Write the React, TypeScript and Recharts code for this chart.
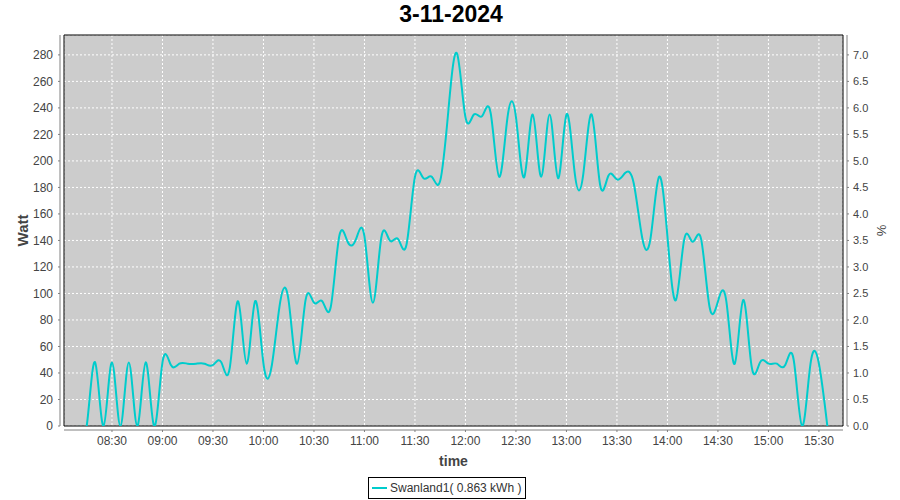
import { LineChart, Line, XAxis, YAxis, CartesianGrid, Legend, ReferenceArea } from "recharts";

const times = [
  "08:10", "08:15", "08:20", "08:25", "08:30", "08:35", "08:40", "08:45", "08:50", "08:55",
  "09:00", "09:05", "09:10", "09:15", "09:20", "09:25", "09:30", "09:35", "09:40", "09:45", "09:50", "09:55",
  "10:00", "10:05", "10:10", "10:15", "10:20", "10:25", "10:30", "10:35", "10:40", "10:45", "10:50", "10:55",
  "11:00", "11:05", "11:10", "11:15", "11:20", "11:25", "11:30", "11:35", "11:40", "11:45", "11:50", "11:55",
  "12:00", "12:05", "12:10", "12:15", "12:20", "12:25", "12:30", "12:35", "12:40", "12:45", "12:50", "12:55",
  "13:00", "13:05", "13:10", "13:15", "13:20", "13:25", "13:30", "13:35", "13:40", "13:45", "13:50", "13:55",
  "14:00", "14:05", "14:10", "14:15", "14:20", "14:25", "14:30", "14:35", "14:40", "14:45", "14:50", "14:55",
  "15:00", "15:05", "15:10", "15:15", "15:20", "15:25", "15:30", "15:35",
];

const watts = [
  0, 0, 48, 0, 48, 0, 48, 0, 48, 0,
  48, 46, 47, 47, 47, 47, 46, 48, 44, 94, 47, 94,
  47, 46, 94, 94, 47, 95, 93, 94, 90, 143, 139, 141,
  143, 93, 142, 140, 141, 137, 188, 187, 188, 185, 240, 281,
  233, 235, 234, 236, 188, 233, 233, 188, 235, 188, 235, 187,
  235, 190, 190, 235, 182, 189, 186, 191, 183, 142, 142, 188,
  143, 95, 141, 139, 141, 90, 94, 94, 47, 95, 45, 48,
  47, 47, 46, 50, 0, 47, 47, 0,
];

const timeTicks = [
  "08:30", "09:00", "09:30", "10:00", "10:30", "11:00", "11:30", "12:00",
  "12:30", "13:00", "13:30", "14:00", "14:30", "15:00", "15:30",
];
const wattTicks = [0, 20, 40, 60, 80, 100, 120, 140, 160, 180, 200, 220, 240, 260, 280];
const pctTicks = [0, 0.5, 1, 1.5, 2, 2.5, 3, 3.5, 4, 4.5, 5, 5.5, 6, 6.5, 7];

const seriesName = "Swanland1( 0.863 kWh )";
const title = "3-11-2024";

const toMin = (s: string) => {
  const [h, m] = s.split(":").map(Number);
  return h * 60 + m;
};
const fmtTime = (v: number) => {
  const h = Math.floor(v / 60);
  const m = Math.round(v - h * 60);
  return `${String(h).padStart(2, "0")}:${String(m).padStart(2, "0")}`;
};

const data = times.map((t, i) => ({ t: toMin(t), w: watts[i] }));

const X_MIN = 481.5;
const X_MAX = 944.3;
const W_MAX = 295;
const LINE = "#00cccc";
const AXIS = "#808080";
const TXT = "#444444";

const LegendBox = () => (
  <div
    style={{
      display: "flex",
      alignItems: "center",
      border: "1px solid #000",
      padding: "3px 4px 3px 3px",
      fontSize: 12,
      color: "#333",
      background: "#fff",
      whiteSpace: "nowrap",
    }}
  >
    <span style={{ display: "inline-block", width: 15, height: 2, background: LINE, marginRight: 3 }} />
    {seriesName}
  </div>
);

export default function App() {
  return (
    <div
      style={{
        position: "absolute",
        left: 0,
        top: 0,
        width: 900,
        height: 500,
        background: "#fff",
        fontFamily: "'Liberation Sans', Arial, sans-serif",
      }}
    >
      <div
        style={{
          position: "absolute",
          left: 0,
          top: 0,
          width: 902,
          height: 28,
          lineHeight: "28px",
          textAlign: "center",
          fontWeight: "bold",
          fontSize: 23,
          color: "#000",
        }}
      >
        {title}
      </div>
      <LineChart width={900} height={500} data={data} margin={{ top: 35, right: 0, bottom: 30, left: 0 }}>
        <CartesianGrid
          xAxisId="x"
          yAxisId="w"
          fill="#cccccc"
          stroke="#ffffff"
          strokeDasharray="2 2"
        />
        <XAxis
          xAxisId="x"
          dataKey="t"
          type="number"
          domain={[X_MIN, X_MAX]}
          allowDataOverflow
          ticks={timeTicks.map(toMin)}
          tickFormatter={fmtTime}
          height={44}
          tickSize={2}
          tickMargin={8}
          axisLine={{ stroke: AXIS, transform: "translate(0,4)" }}
          tickLine={{ stroke: AXIS, transform: "translate(0,4)" }}
          tick={{ fill: TXT, fontSize: 12 }}
          label={(props: any) => {
            const vb = props.viewBox;
            return (
              <text x={vb.x + vb.width / 2} y={461} textAnchor="middle" dominantBaseline="central" fontSize={14} fontWeight="bold" fill={TXT}>
                time
              </text>
            );
          }}
        />
        <YAxis
          yAxisId="w"
          orientation="left"
          width={64}
          domain={[0, W_MAX]}
          allowDataOverflow
          ticks={wattTicks}
          interval={0}
          tickSize={2}
          tickMargin={9}
          axisLine={{ stroke: AXIS, transform: "translate(-4,0)" }}
          tickLine={{ stroke: AXIS, transform: "translate(-4,0)" }}
          tick={{ fill: TXT, fontSize: 12 }}
          label={(props: any) => {
            const vb = props.viewBox;
            const cy = vb.y + vb.height / 2;
            return (
              <text x={22} y={cy} transform={`rotate(-90 22 ${cy})`} textAnchor="middle" dominantBaseline="central" fontSize={15} fontWeight="bold" fill={TXT}>
                Watt
              </text>
            );
          }}
        />
        <YAxis
          yAxisId="p"
          orientation="right"
          width={57}
          domain={[0, W_MAX / 40]}
          allowDataOverflow
          ticks={pctTicks}
          interval={0}
          tickFormatter={(v: number) => v.toFixed(1)}
          tickSize={2}
          tickMargin={8}
          axisLine={{ stroke: AXIS, transform: "translate(4,0)" }}
          tickLine={{ stroke: AXIS, transform: "translate(4,0)" }}
          tick={{ fill: TXT, fontSize: 11 }}
          label={(props: any) => {
            const vb = props.viewBox;
            const cy = vb.y + vb.height / 2;
            return (
              <text x={881} y={cy} transform={`rotate(-90 881 ${cy})`} textAnchor="middle" dominantBaseline="central" fontSize={13} fill={TXT}>
                %
              </text>
            );
          }}
        />
        <ReferenceArea
          xAxisId="x"
          yAxisId="w"
          x1={X_MIN}
          x2={X_MAX}
          y1={0}
          y2={W_MAX}
          fill="none"
          stroke="#000"
          strokeWidth={1}
          ifOverflow="visible"
        />
        <Line
          xAxisId="x"
          yAxisId="w"
          type="natural"
          dataKey="w"
          name={seriesName}
          stroke={LINE}
          strokeWidth={2}
          dot={false}
          isAnimationActive={false}
        />
        <Legend
          layout="horizontal"
          verticalAlign="middle"
          align="center"
          content={() => <LegendBox />}
          wrapperStyle={{ position: "absolute", left: 368, top: 477, width: "auto", height: "auto" }}
        />
      </LineChart>
    </div>
  );
}
